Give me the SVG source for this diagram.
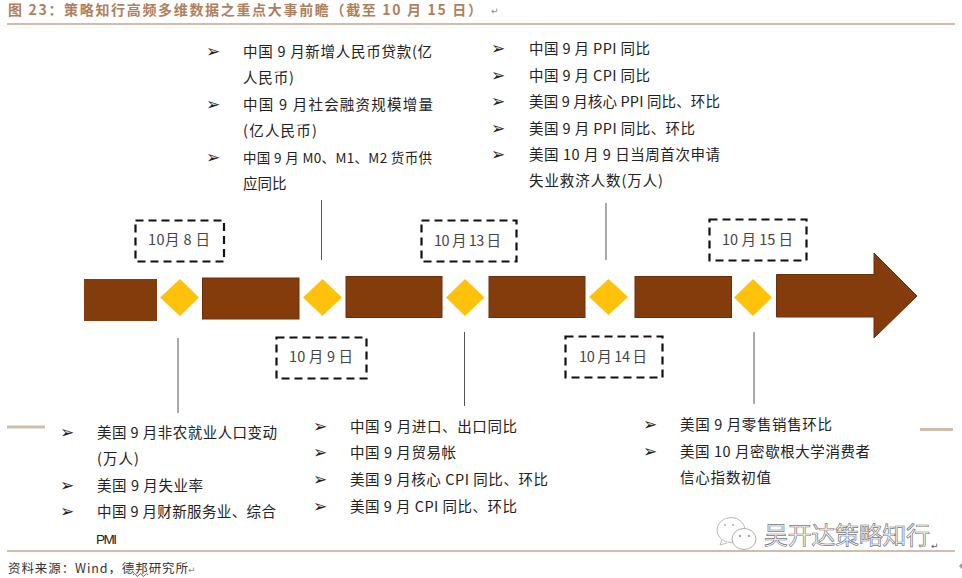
<svg xmlns="http://www.w3.org/2000/svg" width="962" height="578" viewBox="0 0 962 578">
<style>
text{font-family:"Noto Sans CJK SC","Liberation Sans",sans-serif;}
.t{font-size:14.5px;fill:#222}
.b{font-family:"DejaVu Sans",sans-serif;font-size:17px;fill:#222}
.d{font-size:14.5px;fill:#444}
.r{font-family:"DejaVu Sans",sans-serif;font-size:9px;fill:#888}
.box{fill:none;stroke:#111;stroke-width:2.2;stroke-dasharray:8 5}
.bar{fill:#843c0c;stroke:#6b300a;stroke-width:1}
.dia{fill:#ffc20a}
.ln{stroke:#555;stroke-width:1;fill:none}
.rule{stroke:#a9785a;stroke-width:1.2}
.tan{stroke:#d2bdaa;stroke-width:3}
</style>
<rect width="962" height="578" fill="#fff"/>
<text x="8" y="15" font-size="14" font-weight="700" fill="#ad7f5e" textLength="474" lengthAdjust="spacing">图 23&#xFF1A;策略知行高频多维数据之重点大事前瞻&#xFF08;截至 10 月 15 日&#xFF09;</text>
<text class="r" x="491" y="14">↵</text>
<line class="rule" x1="7" y1="24" x2="955" y2="24"/>
<line class="rule" x1="7" y1="551" x2="955" y2="551"/>
<line class="tan" x1="7" y1="427" x2="45" y2="427"/>
<line class="tan" x1="920" y1="429.500" x2="953" y2="429.500"/>
<g id="connectors">
<line class="ln" x1="321.500" y1="200" x2="321.500" y2="260"/>
<line class="ln" x1="606" y1="203" x2="606" y2="260"/>
<line class="ln" x1="178" y1="338" x2="178" y2="413"/>
<line class="ln" x1="464.500" y1="332" x2="464.500" y2="406"/>
<line class="ln" x1="754" y1="332" x2="754" y2="404"/>
</g>
<g id="timeline">
<rect x="84" y="279" width="73" height="42" fill="#843c0c"/>
<rect class="bar" x="202.500" y="278" width="96.500" height="41"/>
<rect class="bar" x="346" y="276.500" width="96" height="41"/>
<rect class="bar" x="489" y="276.500" width="96" height="41"/>
<rect class="bar" x="635" y="276.500" width="96.500" height="41"/>
<path class="bar" d="M776.500 274.500H874V253L917 296L874 338V317H776.500Z"/>
</g>
<g id="diamonds">
<path class="dia" d="M180 279L199 297.500L180 316L160 297.500Z"/>
<path class="dia" d="M322.500 279L342 297.500L322.500 316L303 297.500Z"/>
<path class="dia" d="M465 279L484.500 297.500L465 316L446 297.500Z"/>
<path class="dia" d="M608.500 279L628 297L608.500 315L589 297Z"/>
<path class="dia" d="M753 279L772 297.500L753 316L734 297.500Z"/>
</g>
<g id="date-oct8"><rect class="box" x="135.500" y="220.500" width="88.500" height="41"/><text class="d" x="148" y="245" textLength="62">10月 8 日</text></g>
<g id="date-oct9"><rect class="box" x="276.500" y="337.500" width="90" height="41"/><text class="d" x="289" y="362" textLength="64">10 月 9 日</text></g>
<g id="date-oct13"><rect class="box" x="421.500" y="220.500" width="95" height="41"/><text class="d" x="434" y="246" textLength="67">10 月 13 日</text></g>
<g id="date-oct14"><rect class="box" x="565.500" y="336.500" width="97" height="41"/><text class="d" x="579" y="362" textLength="68">10 月 14 日</text></g>
<g id="date-oct15"><rect class="box" x="709.500" y="219.500" width="97" height="41"/><text class="d" x="722" y="245" textLength="71">10 月 15 日</text></g>
<g id="list-top-left">
<text class="b" x="206" y="57">➢</text><text class="t" x="243" y="57" textLength="189">中国 9 月新增人民币贷款(亿</text>
<text class="t" x="243" y="83" textLength="51">人民币)</text>
<text class="b" x="206" y="110">➢</text><text class="t" x="243" y="110" textLength="190">中国 9 月社会融资规模增量</text>
<text class="t" x="243" y="136" textLength="74">(亿人民币)</text>
<text class="b" x="206" y="163">➢</text><text class="t" x="243" y="163" style="font-size:13.500px" textLength="189">中国 9 月 M0、M1、M2 货币供</text>
<text class="t" x="243" y="189">应同比</text>
</g>
<g id="list-top-right">
<text class="b" x="491" y="54">➢</text><text class="t" x="529" y="54" textLength="121">中国 9 月 PPI 同比</text>
<text class="b" x="491" y="81">➢</text><text class="t" x="529" y="81" textLength="121">中国 9 月 CPI 同比</text>
<text class="b" x="491" y="107">➢</text><text class="t" x="529" y="107" textLength="191">美国 9 月核心 PPI 同比、环比</text>
<text class="b" x="491" y="134">➢</text><text class="t" x="529" y="134" textLength="166">美国 9 月 PPI 同比、环比</text>
<text class="b" x="491" y="160">➢</text><text class="t" x="529" y="160" textLength="191">美国 10 月 9 日当周首次申请</text>
<text class="t" x="529" y="186" textLength="134">失业救济人数(万人)</text>
</g>
<g id="list-bottom-left">
<text class="b" x="60" y="438">➢</text><text class="t" x="97" y="438" textLength="180">美国 9 月非农就业人口变动</text>
<text class="t" x="97" y="464" textLength="42">(万人)</text>
<text class="b" x="60" y="491">➢</text><text class="t" x="97" y="491" textLength="106">美国 9 月失业率</text>
<text class="b" x="60" y="517">➢</text><text class="t" x="97" y="517" textLength="179">中国 9 月财新服务业、综合</text>
<text class="t" x="96" y="544" textLength="21" style="font-family:'Liberation Sans',sans-serif;font-size:13.500px">PMI</text>
</g>
<g id="list-bottom-mid">
<text class="b" x="313" y="432">➢</text><text class="t" x="350" y="432" textLength="167">中国 9 月进口、出口同比</text>
<text class="b" x="313" y="458">➢</text><text class="t" x="350" y="458" textLength="106">中国 9 月贸易帐</text>
<text class="b" x="313" y="485">➢</text><text class="t" x="350" y="485" textLength="198">美国 9 月核心 CPI 同比、环比</text>
<text class="b" x="313" y="512">➢</text><text class="t" x="350" y="512" textLength="167">美国 9 月 CPI 同比、环比</text>
</g>
<g id="list-bottom-right">
<text class="b" x="643" y="430">➢</text><text class="t" x="680" y="430" textLength="152">美国 9 月零售销售环比</text>
<text class="b" x="643" y="457">➢</text><text class="t" x="680" y="457" textLength="190">美国 10 月密歇根大学消费者</text>
<text class="t" x="680" y="483" textLength="91">信心指数初值</text>
</g>
<g id="watermark">
<ellipse cx="731" cy="530" rx="14" ry="12.500" fill="#fff" stroke="#aaa" stroke-width="0.8"/>
<path d="M722 540l-2 5 7-2" fill="#fff" stroke="#aaa" stroke-width="0.8"/>
<ellipse cx="744" cy="539" rx="12" ry="10.500" fill="#fff" stroke="#999" stroke-width="0.8"/>
<circle cx="725" cy="525" r="1" fill="#aaa"/><circle cx="733" cy="525" r="1" fill="#aaa"/>
<circle cx="740" cy="536" r="1" fill="#888"/><circle cx="749" cy="536" r="1" fill="#888"/>
<text x="764" y="544" font-size="24" fill="#fff" stroke="#777" stroke-width="0.7" textLength="166">吴开达策略知行</text>
<text class="r" x="931" y="549" style="fill:#555">↵</text>
</g>
<path d="M959 566l3-3v6z" fill="#999"/>
<text x="8" y="573" font-size="12.500" fill="#333" textLength="180">资料来源&#xFF1A;Wind&#xFF0C;德邦研究所</text>
<text class="r" x="188" y="573">↵</text>
<path d="M133 575q2-3 3 0t3 0t3 0t3 0t3 0" fill="none" stroke="#d22" stroke-width="0.9"/>
</svg>
